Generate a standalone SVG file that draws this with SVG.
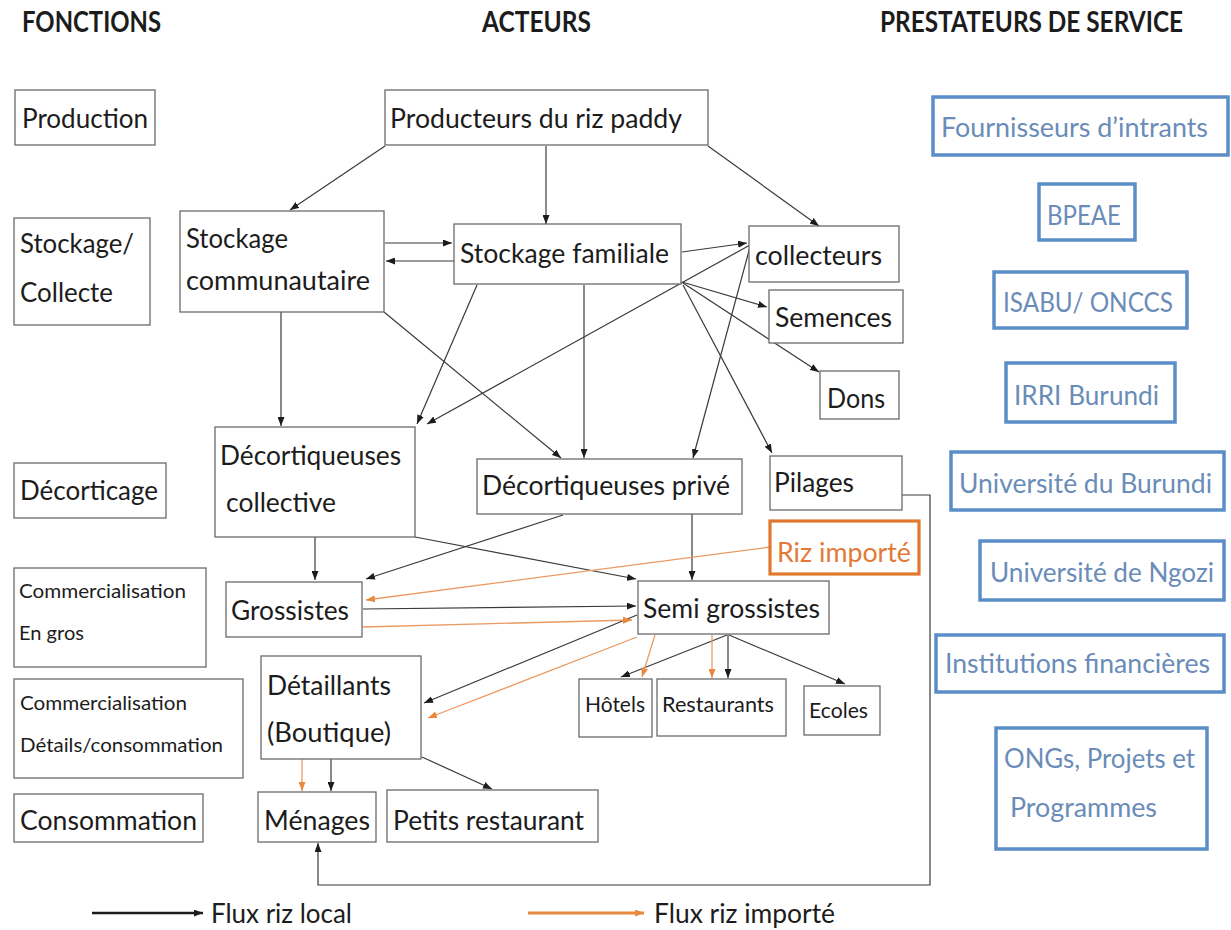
<svg xmlns="http://www.w3.org/2000/svg" width="1231" height="930" viewBox="0 0 1231 930">
<style>
.box{fill:#fff;stroke:#6b6b6b;stroke-width:1.3}
.pbox{fill:#fff;stroke:#5b8dc9;stroke-width:3.5}
.ibox{fill:#fff;stroke:#e2782e;stroke-width:3.2}
text{font-family:Lato,"Open Sans","Liberation Sans",sans-serif;fill:#1c1c1c}
.h{font-size:28px;font-weight:bold}
.t{font-size:27px}
.s{font-size:19px}
.m{font-size:21px}
.b{font-size:26px;fill:#6a8cb8}
.o{font-size:27px;fill:#e27a35}
.c{fill:none;stroke:#3a3a3a;stroke-width:1.2}
.co{fill:none;stroke:#eb9a63;stroke-width:1.3}
</style>
<defs>
<marker id="ab" markerUnits="userSpaceOnUse" markerWidth="9" markerHeight="7" refX="9" refY="3.5" orient="auto"><path d="M0,0 L9,3.5 L0,7 z" fill="#1c1c1c"/></marker>
<marker id="ao" markerUnits="userSpaceOnUse" markerWidth="9" markerHeight="7" refX="9" refY="3.5" orient="auto"><path d="M0,0 L9,3.5 L0,7 z" fill="#e8893f"/></marker>
</defs>

<g id="headers">
<text class="h" x="22" y="32" textLength="139" lengthAdjust="spacingAndGlyphs">FONCTIONS</text>
<text class="h" x="482" y="32" textLength="109" lengthAdjust="spacingAndGlyphs">ACTEURS</text>
<text class="h" x="880" y="32" textLength="303" lengthAdjust="spacingAndGlyphs">PRESTATEURS DE SERVICE</text>
</g>

<g id="fn-production"><rect class="box" x="15" y="90" width="140" height="55"/><text class="t" x="22" y="128" textLength="126" lengthAdjust="spacingAndGlyphs">Production</text></g>
<g id="fn-stockage"><rect class="box" x="14" y="218" width="136" height="107"/><text class="t" x="20" y="253" textLength="114" lengthAdjust="spacingAndGlyphs">Stockage/</text><text class="t" x="20" y="302" textLength="93" lengthAdjust="spacingAndGlyphs">Collecte</text></g>
<g id="fn-decorticage"><rect class="box" x="14" y="463" width="152" height="55"/><text class="t" x="20" y="500" textLength="138" lengthAdjust="spacingAndGlyphs">Décorticage</text></g>
<g id="fn-gros"><rect class="box" x="14" y="568" width="192" height="99"/><text class="s" x="19" y="598" textLength="167" lengthAdjust="spacingAndGlyphs">Commercialisation</text><text class="s" x="19" y="640" textLength="65" lengthAdjust="spacingAndGlyphs">En gros</text></g>
<g id="fn-details"><rect class="box" x="14" y="679" width="229" height="99"/><text class="s" x="20" y="710" textLength="167" lengthAdjust="spacingAndGlyphs">Commercialisation</text><text class="s" x="20" y="752" textLength="203" lengthAdjust="spacingAndGlyphs">Détails/consommation</text></g>
<g id="fn-consommation"><rect class="box" x="14" y="794" width="189" height="48"/><text class="t" x="20" y="830" textLength="177" lengthAdjust="spacingAndGlyphs">Consommation</text></g>

<g id="connectors">
<line class="c" x1="385" y1="146" x2="290" y2="210" marker-end="url(#ab)"/>
<line class="c" x1="546" y1="146" x2="546" y2="224" marker-end="url(#ab)"/>
<line class="c" x1="708" y1="146" x2="819" y2="226" marker-end="url(#ab)"/>
<line class="c" x1="385" y1="243" x2="452" y2="243" marker-end="url(#ab)"/>
<line class="c" x1="454" y1="261" x2="386" y2="261" marker-end="url(#ab)"/>
<line class="c" x1="682" y1="252" x2="747" y2="243" marker-end="url(#ab)"/>
<line class="c" x1="682" y1="282" x2="767" y2="307" marker-end="url(#ab)"/>
<line class="c" x1="683" y1="283" x2="819" y2="372" marker-end="url(#ab)"/>
<line class="c" x1="683" y1="285" x2="772" y2="453" marker-end="url(#ab)"/>
<line class="c" x1="750" y1="245" x2="427" y2="424" marker-end="url(#ab)"/>
<line class="c" x1="750" y1="247" x2="693" y2="458" marker-end="url(#ab)"/>
<line class="c" x1="477" y1="285" x2="417" y2="424" marker-end="url(#ab)"/>
<line class="c" x1="584" y1="285" x2="584" y2="458" marker-end="url(#ab)"/>
<line class="c" x1="281" y1="312" x2="281" y2="426" marker-end="url(#ab)"/>
<line class="c" x1="384" y1="312" x2="561" y2="458" marker-end="url(#ab)"/>
<line class="c" x1="315" y1="537" x2="315" y2="580" marker-end="url(#ab)"/>
<line class="c" x1="563" y1="515" x2="366" y2="579" marker-end="url(#ab)"/>
<line class="c" x1="415" y1="537" x2="636" y2="579" marker-end="url(#ab)"/>
<line class="c" x1="692" y1="514" x2="692" y2="580" marker-end="url(#ab)"/>
<line class="c" x1="363" y1="609" x2="636" y2="606" marker-end="url(#ab)"/>
<line class="c" x1="637" y1="615" x2="424" y2="703" marker-end="url(#ab)"/>
<line class="c" x1="727" y1="635" x2="621" y2="677" marker-end="url(#ab)"/>
<line class="c" x1="728" y1="635" x2="728" y2="678" marker-end="url(#ab)"/>
<line class="c" x1="729" y1="635" x2="845" y2="684" marker-end="url(#ab)"/>
<line class="c" x1="331" y1="759" x2="331" y2="791" marker-end="url(#ab)"/>
<line class="c" x1="422" y1="757" x2="492" y2="789" marker-end="url(#ab)"/>
<polyline class="c" points="902,495 930,495 930,885 318,885 318,843" marker-end="url(#ab)"/>
<line class="co" x1="770" y1="547" x2="366" y2="600" marker-end="url(#ao)"/>
<line class="co" x1="363" y1="627" x2="632" y2="620" marker-end="url(#ao)"/>
<line class="co" x1="637" y1="637" x2="428" y2="718" marker-end="url(#ao)"/>
<line class="co" x1="655" y1="635" x2="642" y2="677" marker-end="url(#ao)"/>
<line class="co" x1="712" y1="635" x2="712" y2="678" marker-end="url(#ao)"/>
<line class="co" x1="302" y1="759" x2="302" y2="791" marker-end="url(#ao)"/>
</g>

<g id="producteurs"><rect class="box" x="385" y="90" width="323" height="55"/><text class="t" x="390" y="128" textLength="292" lengthAdjust="spacingAndGlyphs">Producteurs du riz paddy</text></g>
<g id="stockage-communautaire"><rect class="box" x="180" y="211" width="204" height="101"/><text class="t" x="186" y="248" textLength="102" lengthAdjust="spacingAndGlyphs">Stockage</text><text class="t" x="186" y="290" textLength="184" lengthAdjust="spacingAndGlyphs">communautaire</text></g>
<g id="stockage-familiale"><rect class="box" x="454" y="224" width="227" height="60"/><text class="t" x="460" y="263" textLength="209" lengthAdjust="spacingAndGlyphs">Stockage familiale</text></g>
<g id="collecteurs"><rect class="box" x="749" y="226" width="150" height="56"/><text class="t" x="755" y="265" textLength="127" lengthAdjust="spacingAndGlyphs">collecteurs</text></g>
<g id="semences"><rect class="box" x="769" y="290" width="134" height="53"/><text class="t" x="775" y="327" textLength="117" lengthAdjust="spacingAndGlyphs">Semences</text></g>
<g id="dons"><rect class="box" x="820" y="371" width="79" height="48"/><text class="t" x="827" y="408" textLength="58" lengthAdjust="spacingAndGlyphs">Dons</text></g>
<g id="decort-collective"><rect class="box" x="215" y="427" width="200" height="110"/><text class="t" x="220" y="465" textLength="181" lengthAdjust="spacingAndGlyphs">Décortiqueuses</text><text class="t" x="226" y="512" textLength="110" lengthAdjust="spacingAndGlyphs">collective</text></g>
<g id="decort-prive"><rect class="box" x="477" y="459" width="265" height="55"/><text class="t" x="482" y="495" textLength="248" lengthAdjust="spacingAndGlyphs">Décortiqueuses privé</text></g>
<g id="pilages"><rect class="box" x="770" y="456" width="132" height="54"/><text class="t" x="774" y="492" textLength="80" lengthAdjust="spacingAndGlyphs">Pilages</text></g>
<g id="riz-importe"><rect class="ibox" x="770" y="521" width="149" height="53"/><text class="o" x="777" y="562" textLength="134" lengthAdjust="spacingAndGlyphs">Riz importé</text></g>
<g id="grossistes"><rect class="box" x="226" y="582" width="136" height="55"/><text class="t" x="231" y="620" textLength="118" lengthAdjust="spacingAndGlyphs">Grossistes</text></g>
<g id="semi-grossistes"><rect class="box" x="638" y="581" width="191" height="53"/><text class="t" x="643" y="618" textLength="177" lengthAdjust="spacingAndGlyphs">Semi grossistes</text></g>
<g id="detaillants"><rect class="box" x="261" y="656" width="160" height="103"/><text class="t" x="267" y="695" textLength="124" lengthAdjust="spacingAndGlyphs">Détaillants</text><text class="t" x="267" y="742" textLength="124" lengthAdjust="spacingAndGlyphs">(Boutique)</text></g>
<g id="hotels"><rect class="box" x="579" y="679" width="73" height="58"/><text class="m" x="585" y="712" textLength="60" lengthAdjust="spacingAndGlyphs">Hôtels</text></g>
<g id="restaurants"><rect class="box" x="657" y="679" width="129" height="57"/><text class="m" x="662" y="712" textLength="112" lengthAdjust="spacingAndGlyphs">Restaurants</text></g>
<g id="ecoles"><rect class="box" x="804" y="686" width="76" height="49"/><text class="m" x="809" y="718" textLength="59" lengthAdjust="spacingAndGlyphs">Ecoles</text></g>
<g id="menages"><rect class="box" x="258" y="792" width="118" height="50"/><text class="t" x="264" y="830" textLength="106" lengthAdjust="spacingAndGlyphs">Ménages</text></g>
<g id="petits-restaurant"><rect class="box" x="387" y="790" width="211" height="52"/><text class="t" x="393" y="830" textLength="191" lengthAdjust="spacingAndGlyphs">Petits restaurant</text></g>

<g id="ps-fournisseurs"><rect class="pbox" x="933" y="97" width="295" height="58"/><text class="b" x="941" y="137" textLength="267" lengthAdjust="spacingAndGlyphs">Fournisseurs d’intrants</text></g>
<g id="ps-bpeae"><rect class="pbox" x="1039" y="184" width="96" height="56"/><text class="b" x="1047" y="225" textLength="74" lengthAdjust="spacingAndGlyphs">BPEAE</text></g>
<g id="ps-isabu"><rect class="pbox" x="994" y="272" width="193" height="56"/><text class="b" x="1003" y="312" textLength="170" lengthAdjust="spacingAndGlyphs">ISABU/ ONCCS</text></g>
<g id="ps-irri"><rect class="pbox" x="1006" y="363" width="169" height="59"/><text class="b" x="1014" y="405" textLength="145" lengthAdjust="spacingAndGlyphs">IRRI Burundi</text></g>
<g id="ps-ub"><rect class="pbox" x="951" y="452" width="273" height="58"/><text class="b" x="959" y="493" textLength="253" lengthAdjust="spacingAndGlyphs">Université du Burundi</text></g>
<g id="ps-ungozi"><rect class="pbox" x="980" y="541" width="244" height="59"/><text class="b" x="990" y="582" textLength="224" lengthAdjust="spacingAndGlyphs">Université de Ngozi</text></g>
<g id="ps-institutions"><rect class="pbox" x="936" y="635" width="288" height="57"/><text class="b" x="945" y="673" textLength="265" lengthAdjust="spacingAndGlyphs">Institutions financières</text></g>
<g id="ps-ongs"><rect class="pbox" x="996" y="728" width="211" height="121"/><text class="b" x="1004" y="768" textLength="191" lengthAdjust="spacingAndGlyphs">ONGs, Projets et</text><text class="b" x="1010" y="817" textLength="147" lengthAdjust="spacingAndGlyphs">Programmes</text></g>

<g id="legend">
<line x1="92" y1="913" x2="203" y2="913" stroke="#1c1c1c" stroke-width="2.6" marker-end="url(#ab)"/>
<text class="t" x="211" y="923" textLength="141" lengthAdjust="spacingAndGlyphs">Flux riz local</text>
<line x1="528" y1="913" x2="644" y2="913" stroke="#e8893f" stroke-width="3" marker-end="url(#ao)"/>
<text class="t" x="654" y="923" textLength="181" lengthAdjust="spacingAndGlyphs">Flux riz importé</text>
</g>
</svg>
